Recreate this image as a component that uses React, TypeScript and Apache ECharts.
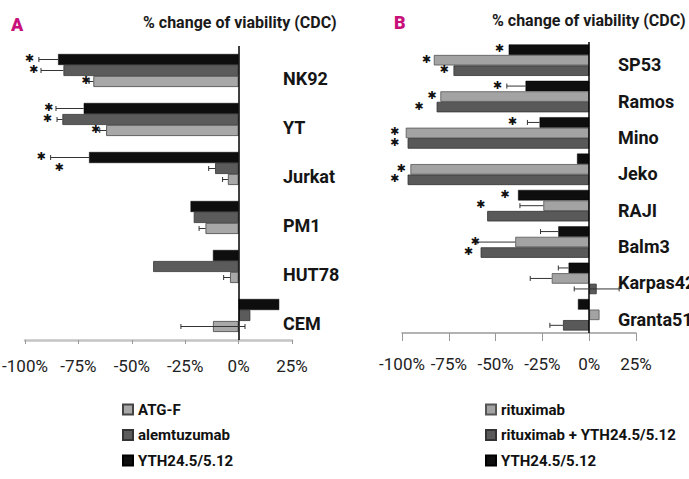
import React, { useEffect, useRef } from "react";
import * as echarts from "echarts";

// ---------- Panel A data ----------
const catsA = ["NK92", "YT", "Jurkat", "PM1", "HUT78", "CEM"];
const ythA = [-84.5, -72.5, -70, -22.5, -12, 19];
const alemA = [-82, -82.5, -11, -21, -40, 5.5];
const atgA = [-68, -62, -5, -15.5, -4, -12];
const ythAErr = [9, 13, 18, null, null, null];
const alemAErr = [10.5, 2.5, 3, null, null, null];
const atgAErr = [2, 3, 2.5, 3, 3, 15];
const ythAStar = [-98, -89, -92.5, null, null, null];
const alemAStar = [-96, -89.5, -84, null, null, null];
const atgAStar = [-71.5, -67, null, null, null, null];

// ---------- Panel B data ----------
const catsB = ["SP53", "Ramos", "Mino", "Jeko", "RAJI", "Balm3", "Karpas422", "Granta519"];
const ythB = [-43, -34, -26.5, -6.5, -38, -16.5, -11, -6];
const rituxB = [-83, -79.5, -98, -95.5, -24.5, -39.5, -20, 5.5];
const rituxYthB = [-72.5, -81.5, -97, -97, -54.5, -58, 4, -14];
const ythBErr = [null, 10, 6.5, null, null, 9.5, 5.5, null];
const rituxBErr = [null, null, null, null, 12.5, 20.5, 11.5, null];
const rituxYthBErr = [null, null, null, null, null, null, 12, 7];
const ythBStar = [-48, -49, -41, null, -45, null, null, null];
const rituxBStar = [-87, -84, -104, -100.5, -58, -61, null, null];
const rituxYthBStar = [-77.5, -91, -104, -104, null, -64.5, null, null];

const xTicks = { min: -100, max: 25, interval: 25 };

const FONT = "Roboto, 'Liberation Sans', sans-serif";

const BLACK = "#0e0e0e";
const DARK = "#5b5b5b";
const LIGHT = "#a8a8a8";

function errData(vals: number[], errs: (number | null)[], k: number) {
  const out: number[][] = [];
  vals.forEach((v, i) => {
    const e = errs[i];
    if (e != null) out.push([v, i, e, k]);
  });
  return out;
}
function starData(stars: (number | null)[], k: number) {
  const out: number[][] = [];
  stars.forEach((s, i) => {
    if (s != null) out.push([s, i, k]);
  });
  return out;
}

function errSeries(data: number[][], grid: number, bw: number) {
  return {
    type: "custom",
    xAxisIndex: grid,
    yAxisIndex: grid,
    z: 5,
    silent: true,
    encode: { x: 0, y: 1 },
    data,
    renderItem: (params: any, api: any) => {
      const v = api.value(0);
      const c = api.value(1);
      const e = api.value(2);
      const k = api.value(3);
      const center = api.coord([v, c]);
      const y = center[1] + (k - 1) * bw;
      const both = Math.abs(v) < e;
      let a: number, b: number;
      if (both) {
        a = v - e;
        b = v + e;
      } else if (v < 0) {
        a = v - e;
        b = v;
      } else {
        a = v;
        b = v + e;
      }
      const xa = api.coord([a, c])[0];
      const xb = api.coord([b, c])[0];
      const capX = v < 0 || both ? xa : xb;
      const st = { stroke: "#333", lineWidth: 1 };
      const children: any[] = [
        { type: "line", shape: { x1: xa, y1: y, x2: xb, y2: y }, style: st },
        { type: "line", shape: { x1: capX, y1: y - 2.5, x2: capX, y2: y + 2.5 }, style: st },
      ];
      if (both) {
        children.push({ type: "line", shape: { x1: xb, y1: y - 2.5, x2: xb, y2: y + 2.5 }, style: st });
      }
      return { type: "group", children };
    },
  };
}

function starSeries(data: number[][], grid: number, bw: number) {
  return {
    type: "custom",
    xAxisIndex: grid,
    yAxisIndex: grid,
    z: 6,
    silent: true,
    encode: { x: 0, y: 1 },
    data,
    renderItem: (params: any, api: any) => {
      const s = api.value(0);
      const c = api.value(1);
      const k = api.value(2);
      const p = api.coord([s, c]);
      const y = p[1] + (k - 1) * bw - 1;
      return {
        type: "text",
        x: p[0],
        y,
        style: {
          text: "\u2731",
          fontSize: 11,
          fontFamily: "DejaVu Sans",
          fill: "#111",
          align: "center",
          verticalAlign: "middle",
        },
      };
    },
  };
}

export default function App() {
  const ref = useRef<HTMLDivElement>(null);
  useEffect(() => {
    document.body.style.margin = "0";
    const chart = echarts.init(ref.current!, null, { renderer: "svg" });
    const bwA = 11;
    const bwB = 10.5;
    const xAxisBase = (grid: number, margin: number, lineColor: string, lineWidth: number, tickLen: number, minor: boolean) => ({
      type: "value",
      gridIndex: grid,
      min: xTicks.min,
      max: xTicks.max,
      interval: xTicks.interval,
      splitLine: { show: false },
      axisLine: { show: true, onZero: false, lineStyle: { color: lineColor, width: lineWidth } },
      axisTick: { show: true, length: tickLen, lineStyle: { color: "#999", width: 1 } },
      minorTick: { show: minor, splitNumber: 5, length: 2, lineStyle: { color: "#c8c8c8" } },
      axisLabel: {
        margin,
        fontSize: 17,
        color: "#222",
        fontFamily: FONT,
        hideOverlap: false,
        showMinLabel: true,
        showMaxLabel: true,
        formatter: (v: number) => `${v}%`,
      },
    });
    const yAxisBase = (grid: number, data: string[], margin: number, lh: number) => ({
      type: "category",
      gridIndex: grid,
      data,
      inverse: true,
      position: "right",
      axisLine: { show: false, onZero: false },
      axisTick: { show: false },
      splitLine: { show: false },
      axisLabel: {
        margin,
        fontSize: 18,
        fontWeight: "bold",
        color: "#151515",
        fontFamily: FONT,
        align: "left",
        verticalAlign: "top",
        lineHeight: lh,
      },
    });
    const zeroLine = {
      silent: true,
      symbol: ["none", "none"],
      label: { show: false },
      lineStyle: { color: "#000", width: 1.5, type: "solid" },
      data: [{ xAxis: 0 }],
    };
    const legendText = {
      fontSize: 15,
      fontWeight: "bold",
      fontFamily: FONT,
      color: "#111",
      lineHeight: 17,
    };
    const legendBase = {
      top: 401,
      orient: "vertical",
      icon: "rect",
      itemWidth: 10,
      itemHeight: 10,
      itemGap: 8.5,
      padding: 0,
      selectedMode: false,
      textStyle: legendText,
    };
    const titleStyle = { color: "#1a1a1a", fontSize: 16, fontWeight: "bold", fontFamily: FONT };
    const letterStyle = { color: "#c8107a", fontSize: 18, fontWeight: 900, fontFamily: FONT };
    const option: any = {
      animation: false,
      backgroundColor: "#fff",
      title: [
        { text: "A", left: 11, top: 15, padding: 0, textStyle: letterStyle },
        { text: "% change of viability (CDC)", left: 143, top: 14, padding: 0, textStyle: titleStyle },
        { text: "B", left: 394, top: 13, padding: 0, textStyle: letterStyle },
        { text: "% change of viability (CDC)", left: 492, top: 12, padding: 0, textStyle: titleStyle },
      ],
      legend: [
        { ...legendBase, left: 122, data: ["ATG-F", "alemtuzumab", "YTH24.5/5.12"] },
        { ...legendBase, left: 485, data: ["rituximab", "rituximab + YTH24.5/5.12", "YTH24.5/5.12"] },
      ],
      grid: [
        { left: 25, top: 46, width: 267, height: 294, outerBoundsMode: "none", containLabel: false },
        { left: 402, top: 42, width: 234, height: 291, outerBoundsMode: "none", containLabel: false },
      ],
      xAxis: [xAxisBase(0, 17, "#c4c4c4", 2.5, 4, true), xAxisBase(1, 22, "#9a9a9a", 1.5, 8, false)],
      yAxis: [yAxisBase(0, catsA, -9, 16), yAxisBase(1, catsB, -18, 9)],
      series: [
        {
          name: "YTH24.5/5.12",
          type: "bar",
          xAxisIndex: 0,
          yAxisIndex: 0,
          barWidth: bwA,
          barGap: "0%",
          data: ythA,
          itemStyle: { color: BLACK, borderColor: "#000", borderWidth: 0.5 },
          markLine: zeroLine,
        },
        {
          name: "alemtuzumab",
          type: "bar",
          xAxisIndex: 0,
          yAxisIndex: 0,
          barWidth: bwA,
          barGap: "0%",
          data: alemA,
          itemStyle: { color: DARK, borderColor: "#333", borderWidth: 0.8 },
        },
        {
          name: "ATG-F",
          type: "bar",
          xAxisIndex: 0,
          yAxisIndex: 0,
          barWidth: bwA,
          barGap: "0%",
          data: atgA,
          itemStyle: { color: LIGHT, borderColor: "#444", borderWidth: 0.8 },
        },
        {
          name: "YTH24.5/5.12",
          type: "bar",
          xAxisIndex: 1,
          yAxisIndex: 1,
          barWidth: bwB,
          barGap: "0%",
          data: ythB,
          itemStyle: { color: BLACK, borderColor: "#000", borderWidth: 0.5 },
          markLine: zeroLine,
        },
        {
          name: "rituximab",
          type: "bar",
          xAxisIndex: 1,
          yAxisIndex: 1,
          barWidth: bwB,
          barGap: "0%",
          data: rituxB,
          itemStyle: { color: "#a3a3a3", borderColor: "#555", borderWidth: 0.8 },
        },
        {
          name: "rituximab + YTH24.5/5.12",
          type: "bar",
          xAxisIndex: 1,
          yAxisIndex: 1,
          barWidth: bwB,
          barGap: "0%",
          data: rituxYthB,
          itemStyle: { color: "#595959", borderColor: "#333", borderWidth: 0.8 },
        },
        errSeries(errData(ythA, ythAErr, 0), 0, bwA),
        errSeries(errData(alemA, alemAErr, 1), 0, bwA),
        errSeries(errData(atgA, atgAErr, 2), 0, bwA),
        errSeries(errData(ythB, ythBErr, 0), 1, bwB),
        errSeries(errData(rituxB, rituxBErr, 1), 1, bwB),
        errSeries(errData(rituxYthB, rituxYthBErr, 2), 1, bwB),
        starSeries(starData(ythAStar, 0), 0, bwA),
        starSeries(starData(alemAStar, 1), 0, bwA),
        starSeries(starData(atgAStar, 2), 0, bwA),
        starSeries(starData(ythBStar, 0), 1, bwB),
        starSeries(starData(rituxBStar, 1), 1, bwB),
        starSeries(starData(rituxYthBStar, 2), 1, bwB),
      ],
    };
    chart.setOption(option);
    return () => chart.dispose();
  }, []);
  return <div ref={ref} style={{ width: 689, height: 479 }} />;
}
